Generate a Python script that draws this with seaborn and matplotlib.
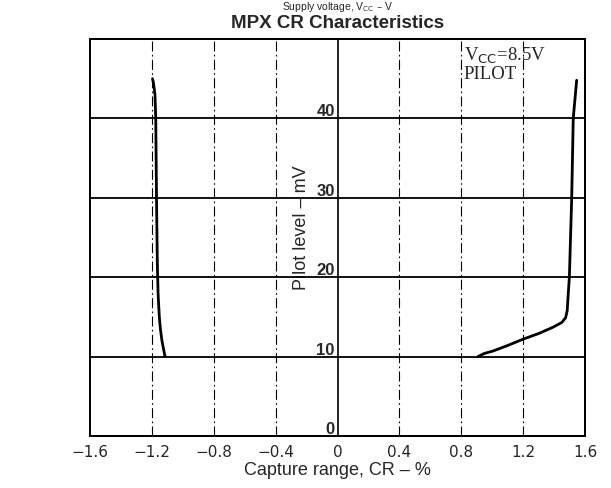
import matplotlib
matplotlib.use("Agg")
import matplotlib.pyplot as plt
import seaborn as sns
import pandas as pd

# Data
left_cr = [-1.115, -1.125, -1.135, -1.145, -1.152, -1.160, -1.165, -1.170, -1.175, -1.180, -1.190, -1.196]
left_pilot = [10.0, 11.0, 12.0, 13.5, 15.0, 18.0, 22.0, 30.0, 40.0, 43.0, 44.5, 45.0]
right_cr = [0.908, 0.950, 1.005, 1.100, 1.200, 1.300, 1.393, 1.450, 1.475, 1.485, 1.492, 1.499, 1.514, 1.524, 1.546]
right_pilot = [10.0, 10.4, 10.7, 11.4, 12.2, 12.9, 13.7, 14.3, 14.9, 15.8, 18.0, 20.0, 30.0, 40.0, 44.8]

x_ticks = [-1.6, -1.2, -0.8, -0.4, 0, 0.4, 0.8, 1.2, 1.6]
x_tick_labels = ["\u22121.6", "\u22121.2", "\u22120.8", "\u22120.4", "0", "0.4", "0.8", "1.2", "1.6"]
y_ticks = [0, 10, 20, 30, 40]
y_tick_labels = ["0", "10", "20", "30", "40"]

sns.set_theme(style="white")
plt.rcParams["font.family"] = ["Liberation Sans", "DejaVu Sans"]

fig = plt.figure(figsize=(6.11, 4.89), dpi=100)
ax = fig.add_axes([90 / 611, 1 - 437 / 489, (585 - 90) / 611, (437 - 40) / 489])

df = pd.concat([
    pd.DataFrame({"cr": left_cr, "pilot": left_pilot, "curve": "L"}),
    pd.DataFrame({"cr": right_cr, "pilot": right_pilot, "curve": "R"}),
])
for name, sub in df.groupby("curve"):
    sns.lineplot(data=sub, x="cr", y="pilot", sort=False, estimator=None,
                 color="black", linewidth=2.0, ax=ax, zorder=5)

ax.set_xlim(-1.6, 1.6)
ax.set_ylim(0, 50)

# grid lines
for yv in [10, 20, 30, 40]:
    ax.axhline(yv, color="black", linewidth=1.3, zorder=2)
for xv in [-1.2, -0.8, -0.4, 0.4, 0.8, 1.2]:
    ax.axvline(xv, color="black", linewidth=0.8, linestyle=(0, (9, 3, 1.5, 3)), zorder=2)

# frame
for s in ax.spines.values():
    s.set_visible(True)
    s.set_color("black")
    s.set_linewidth(1.4)
ax.patch.set_edgecolor("black")
ax.patch.set_linewidth(1.4)
ax.spines["left"].set_position(("data", 0))
ax.spines["left"].set_linewidth(1.2)

ax.set_xticks(x_ticks)
ax.set_xticklabels(x_tick_labels, fontsize=11, family="DejaVu Sans")
ax.set_yticks(y_ticks)
ax.set_yticklabels(y_tick_labels, fontsize=12, fontweight="bold")
for lab in ax.get_yticklabels():
    lab.set_verticalalignment("bottom")
ax.tick_params(axis="both", length=0)
ax.tick_params(axis="x", pad=6)
ax.tick_params(axis="y", pad=2)

ax.set_xlabel("Capture range, CR \u2013 %", fontsize=13, labelpad=1)
ax.set_ylabel("Pilot level \u2013 mV", fontsize=13)
ax.yaxis.set_label_coords((310 - 90) / 495, (437 - 228) / 397)

ax.text(0.755, 0.985, r"V$_{\rm CC}$=8.5V" + "\nPILOT", transform=ax.transAxes,
        ha="left", va="top", multialignment="left", family="Liberation Serif",
        fontsize=13.5, linespacing=1.0, zorder=6)

fig.text(338 / 611, 1 - 24 / 489, "MPX CR Characteristics", ha="center", va="center",
         fontsize=13.5, fontweight="bold")
fig.text(338 / 611, 1 - 0.5 / 489, "Supply voltage, V$_{\\rm CC}$ \u2013 V",
         ha="center", va="top", fontsize=7.5)

fig.savefig("out.png", dpi=100)
